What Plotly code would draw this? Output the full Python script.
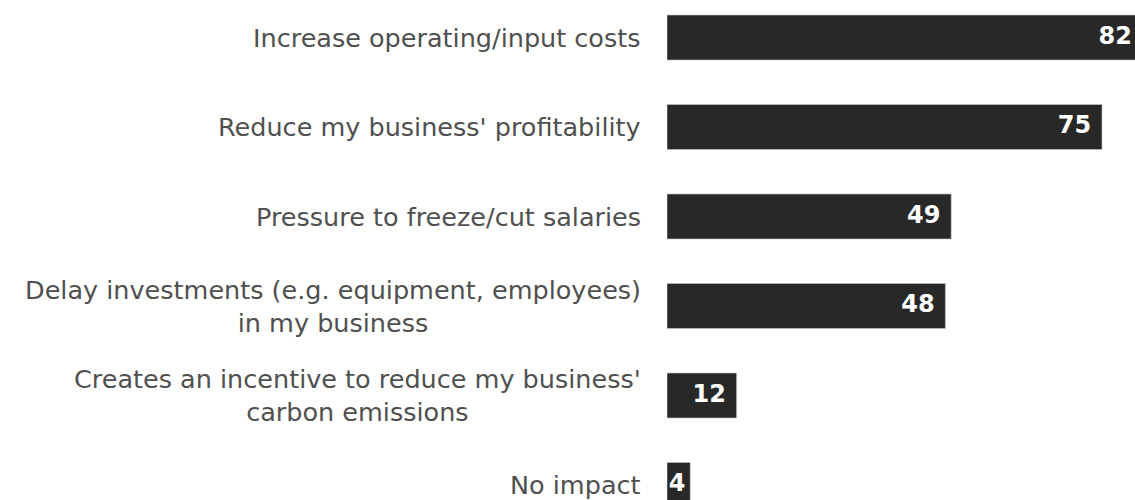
import plotly.graph_objects as go

categories = [
    "Increase operating/input costs",
    "Reduce my business' profitability",
    "Pressure to freeze/cut salaries",
    "Delay investments (e.g. equipment, employees)<br>in my business",
    "Creates an incentive to reduce my business'<br>carbon emissions",
    "No impact",
]
values = [82, 75, 49, 48, 12, 4]

# window is 1135x500; the longest bar runs past the right edge in the reference,
# so the figure is a little wider than the window and the page hides the overflow
W, H = 1143, 500
left = 667
px_per_unit = 5.8
row_px = 89.5
first_center = 37.5

xmax = (W - left) / px_per_unit
ytop = -first_center / row_px
ybot = (H - first_center) / row_px

ypos = list(range(len(categories)))
labels = [f"{v}\u00a0\u200a" if v >= 10 else f"{v}\u2009" for v in values]

fig = go.Figure()
fig.add_trace(go.Bar(
    y=ypos,
    x=values,
    orientation="h",
    width=45 / row_px,
    marker=dict(color="#282828", line=dict(color="#c8c8c8", width=0.6)),
    cliponaxis=False,
    hoverinfo="skip",
))
fig.add_trace(go.Scatter(
    y=ypos,
    x=values,
    mode="text",
    text=labels,
    textposition="middle left",
    textfont=dict(family="DejaVu Sans", size=24, color="white", weight="bold"),
    cliponaxis=False,
    hoverinfo="skip",
))

for i, c in enumerate(categories):
    fig.add_annotation(
        x=0, xref="paper", y=i, yref="y",
        text=c, showarrow=False,
        xanchor="right", yanchor="middle", align="center",
        xshift=-24,
        font=dict(family="DejaVu Sans", size=25.5, color="#505050"),
    )

fig.update_layout(
    width=W, height=H,
    margin=dict(l=left, r=0, t=0, b=0),
    paper_bgcolor="white", plot_bgcolor="white",
    showlegend=False,
    xaxis=dict(range=[0, xmax], visible=False),
    yaxis=dict(range=[ybot, ytop], visible=False),
)

fig.write_html(
    "out.html",
    config={"displayModeBar": False},
    post_script="document.body.style.margin='0';"
                "document.body.style.overflow='hidden';"
                "document.documentElement.style.overflow='hidden';",
)
